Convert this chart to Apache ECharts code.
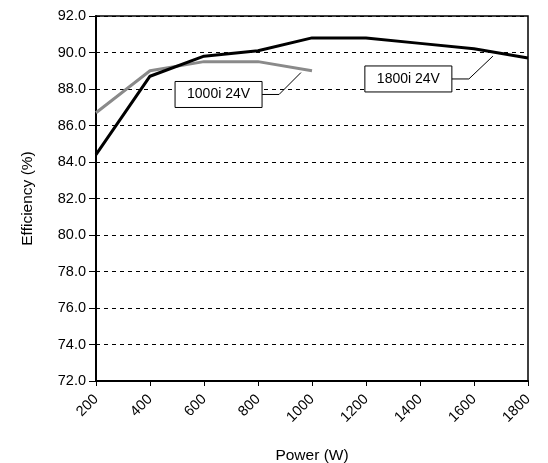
<!DOCTYPE html>
<html><head><meta charset="utf-8">
<script src="https://cdn.jsdelivr.net/npm/echarts@6/dist/echarts.min.js"></script>
<style>html,body{margin:0;padding:0;background:#fff}#c{width:548px;height:463px}</style>
</head><body><div id="c"></div>
<script>
const power = [200, 400, 600, 800, 1000, 1200, 1400, 1600, 1800];
const eff1800 = [84.4, 88.7, 89.8, 90.1, 90.8, 90.8, 90.5, 90.2, 89.7];
const power1000 = [200, 400, 600, 800, 1000];
const eff1000 = [86.7, 89.0, 89.5, 89.5, 89.0];
// annotation anchors (data space): tip, elbow
const note1000 = { text: '1000i 24V', tip: [959, 88.9], elbow: [878, 87.7] };
const note1800 = { text: '1800i 24V', tip: [1670, 89.8], elbow: [1581, 88.55] };

const chart = echarts.init(document.getElementById('c'));
const font = 'Liberation Sans, Arial, sans-serif';
chart.setOption({
  animation: false,
  grid: { left: 96, right: 20, top: 16, bottom: 82, containLabel: false, outerBoundsMode: 'none',
          show: true, borderColor: '#000', borderWidth: 1.5, backgroundColor: '#fff' },
  xAxis: {
    type: 'value', min: 200, max: 1800, interval: 200,
    name: 'Power (W)', nameLocation: 'middle', nameGap: 67,
    nameTextStyle: { color: '#000', fontSize: 15.5, fontFamily: font },
    axisLine: { show: true, lineStyle: { color: '#000', width: 2 } },
    axisTick: { show: true, inside: false, length: 5, lineStyle: { color: '#000' } },
    axisLabel: { rotate: 45, color: '#000', fontSize: 14.5, fontFamily: font, margin: 16, formatter: v => String(v) },
    splitLine: { show: false }
  },
  yAxis: {
    type: 'value', min: 72, max: 92, interval: 2,
    name: 'Efficiency (%)', nameLocation: 'middle', nameGap: 60, nameRotate: 90,
    nameTextStyle: { color: '#000', fontSize: 15.5, fontFamily: font },
    axisLine: { show: true, lineStyle: { color: '#000', width: 2 } },
    axisTick: { show: true, length: 7, lineStyle: { color: '#000' } },
    axisLabel: { color: '#000', fontSize: 14.5, fontFamily: font, margin: 10, formatter: v => v.toFixed(1) },
    splitLine: { show: true, lineStyle: { color: '#000', type: [4, 4], width: 1 } }
  },
  series: [
    { type: 'line', data: power.map((p, i) => [p, eff1800[i]]), symbol: 'none',
      lineStyle: { color: '#000', width: 3 }, z: 3 },
    { type: 'line', data: power1000.map((p, i) => [p, eff1000[i]]), symbol: 'none',
      lineStyle: { color: '#8a8a8a', width: 3 }, z: 2 }
  ]
});

function drawNote(n) {
  const tip = chart.convertToPixel({ gridIndex: 0 }, n.tip);
  const elb = chart.convertToPixel({ gridIndex: 0 }, n.elbow);
  const boxW = 87, boxH = 26, gap = 17;
  const bx = elb[0] - gap - boxW, by = elb[1] - boxH / 2;
  return [
    { type: 'polyline', shape: { points: [[bx + boxW, elb[1]], elb, tip] }, style: { stroke: '#000', lineWidth: 1, fill: null }, z: 10 },
    { type: 'rect', shape: { x: bx, y: by, width: boxW, height: boxH }, style: { fill: '#fff', stroke: '#000', lineWidth: 1 }, z: 10 },
    { type: 'text', x: bx + boxW / 2, y: by + boxH / 2, style: { text: n.text, fill: '#000', font: '14px ' + font, textAlign: 'center', textVerticalAlign: 'middle' }, z: 11 }
  ];
}
chart.setOption({ graphic: [...drawNote(note1000), ...drawNote(note1800)] });
</script></body></html>
